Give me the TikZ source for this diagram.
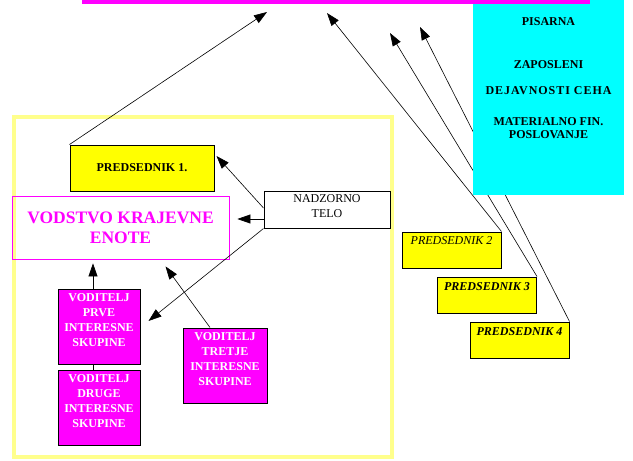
\documentclass[tikz,border=0pt]{standalone}
\usepackage{fontspec}
\setmainfont{Liberation Serif}
\definecolor{enotayellow}{RGB}{255,255,140}
\definecolor{vmagenta}{RGB}{255,0,255}
\definecolor{vcyan}{RGB}{0,255,255}
\definecolor{vyellow}{RGB}{255,255,0}
\usetikzlibrary{arrows.meta,positioning,calc}

\begin{document}
\begin{tikzpicture}[
  x=1pt, y=-1pt,
  every node/.style={font=\fontsize{12}{15}\selectfont\bfseries},
  arr/.style={-{Triangle[length=13pt,width=9pt]},line width=0.6pt},
  predbox/.style={draw,line width=1pt,fill=vyellow,minimum width=99pt,minimum height=36pt,inner sep=0pt},
  vodbox/.style={draw,line width=1pt,fill=vmagenta,minimum width=82pt,minimum height=75pt,inner sep=0pt},
  boxtext/.style={anchor=north,yshift=-5pt,inner sep=0pt,align=center},
  cehtext/.style={inner sep=0pt,text height=8pt,text depth=0pt},
]
  \useasboundingbox (0,0) rectangle (633,461);

  % Arrow ends below the upper level
  \coordinate (t1) at (267,12);
  \coordinate (t2) at (327,13);
  \coordinate (t3) at (390,33);
  \coordinate (t4) at (420,27);

  % Local unit frame
  \node[draw=enotayellow,line width=4pt,minimum width=378pt,minimum height=340pt,anchor=north west] (enota) at (12,115) {};

  % Other presidents
  \node[predbox,label={[boxtext,font=\fontsize{12}{15}\selectfont\mdseries\itshape]north:PREDSEDNIK 2}] (pred2) at (451.5,250) {};
  \node[predbox,label={[boxtext,yshift=-1pt,font=\fontsize{12}{15}\selectfont\bfseries\itshape]north:PREDSEDNIK 3}] (pred3) at (487,295) {};
  \node[predbox,label={[boxtext,yshift=-1pt,font=\fontsize{12}{15}\selectfont\bfseries\itshape]north:PREDSEDNIK 4}] (pred4) at (519.5,340) {};

  \draw[arr] (pred2.north east) -- (t2);
  \draw[arr] (pred3.north east) -- (t3);
  \draw[arr] (pred4.north east) -- (t4);

  % Office
  \node[fill=vcyan,minimum width=151pt,minimum height=195pt,anchor=north west,inner sep=0pt] (pisarna) at (473,0) {};
  \node[cehtext] (pis) at (548.5,21) {PISARNA};
  \node[cehtext] (zap) at (548.5,64) {ZAPOSLENI};
  \node[cehtext,font=\fontsize{12}{15}\selectfont\bfseries\addfontfeatures{LetterSpace=8}] (dej) at (548.5,90) {DEJAVNOSTI CEHA};
  \node[cehtext] (mat) at (548.5,121) {MATERIALNO FIN.};
  \node[cehtext] (pos) at (548.5,134) {POSLOVANJE};

  % Upper level (cut off at the top)
  \node[draw=vmagenta,line width=4pt,minimum width=504pt,minimum height=60pt,anchor=south] (uprava) at (336,4) {};

  % Local unit
  \node[draw,line width=1pt,fill=vyellow,minimum width=144pt,minimum height=46pt,inner sep=0pt] (pred1) at (142,168) {PREDSEDNIK 1.};
  \node[draw=vmagenta,line width=0.8pt,minimum width=217pt,minimum height=63pt,inner sep=0pt,align=center,
        text=vmagenta,font=\fontsize{17.5}{20}\selectfont\bfseries] (vodstvo) at (120.5,227.5) {VODSTVO KRAJEVNE\\ENOTE};
  \node[draw,line width=1pt,fill=white,minimum width=126pt,minimum height=37pt,inner sep=0pt,
        label={[boxtext,yshift=1.5pt,font=\fontsize{12}{15}\selectfont\mdseries]north:{NADZORNO\\TELO}}] (nadzor) at (327,209.5) {};

  \node[vodbox,label={[boxtext,text=white]north:{VODITELJ\\PRVE\\INTERESNE\\SKUPINE}}] (prve) at (99,326.5) {};
  \node[vodbox,label={[boxtext,text=white]north:{VODITELJ\\DRUGE\\INTERESNE\\SKUPINE}}] (druge) at (99,407.5) {};
  \node[vodbox,minimum width=84pt,label={[boxtext,text=white]north:{VODITELJ\\TRETJE\\INTERESNE\\SKUPINE}}] (tretje) at (225,365.5) {};

  \draw[arr] (pred1.north west) -- (t1);
  \draw[arr] ([yshift=1.5pt]nadzor.west) -- ([xshift=2pt,yshift=12pt]pred1.east);
  \draw[arr] ([yshift=-9.5pt]nadzor.west) -- ([xshift=8pt,yshift=8.5pt]vodstvo.east);
  \draw[arr] (nadzor.south west) -- ([xshift=8pt,yshift=5.5pt]prve.east);
  \draw[arr,shorten >=4pt] ([xshift=-6pt]prve.north) -- ([xshift=-6pt]prve.north |- vodstvo.south);
  \draw[line width=0.6pt] ([xshift=-6pt]prve.south) -- ([xshift=-6pt]druge.north);
  \draw[arr] ([xshift=-15pt]tretje.north) -- ([xshift=45pt,yshift=-7pt]vodstvo.south);
\end{tikzpicture}
\end{document}
